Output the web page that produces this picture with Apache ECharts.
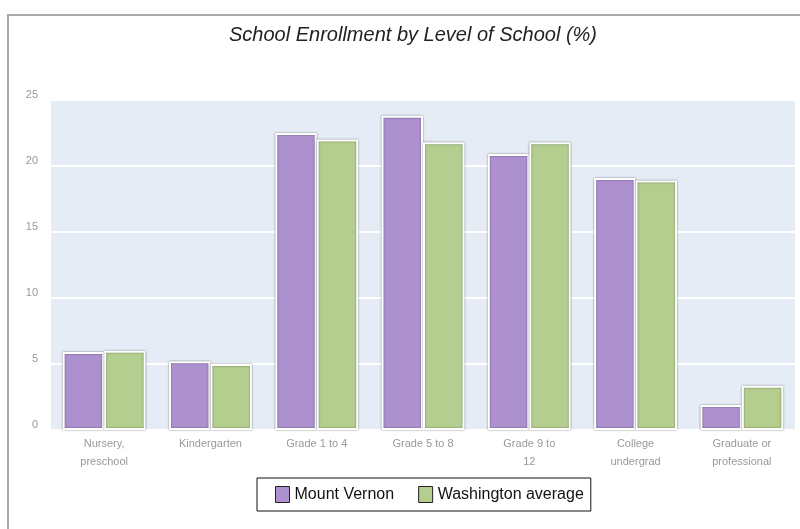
<!DOCTYPE html>
<html>
<head>
<meta charset="utf-8">
<script src="https://cdn.jsdelivr.net/npm/echarts@6/dist/echarts.min.js"></script>
<style>
  html, body { margin: 0; padding: 0; background: #fff; }
  #chart { width: 800px; height: 529px; }
</style>
</head>
<body>
<div id="chart"></div>
<script>
const levels = ['Nursery,\npreschool', 'Kindergarten', 'Grade 1 to 4', 'Grade 5 to 8', 'Grade 9 to\n12', 'College\nundergrad', 'Graduate or\nprofessional'];
const mountVernon = [5.9, 5.2, 22.5, 23.8, 20.9, 19.1, 1.9];
const washington = [6.0, 5.0, 22.0, 21.8, 21.8, 18.9, 3.35];
const yTicks = [0, 5, 10, 15, 20, 25];

const barStyle = (color) => ({
  color,
  borderColor: '#fff',
  borderWidth: 2,
  shadowColor: 'rgba(0,0,0,0.45)',
  shadowBlur: 2,
});

const chart = echarts.init(document.getElementById('chart'));
chart.setOption({
  animation: false,
  title: {
    text: 'School Enrollment by Level of School (%)',
    left: 408,
    textAlign: 'center',
    top: 20,
    textStyle: {
      fontFamily: 'Liberation Sans',
      fontStyle: 'italic',
      fontWeight: 'normal',
      fontSize: 20,
      color: '#222',
    },
  },
  graphic: [{
    type: 'rect',
    shape: { x: 8, y: 15, width: 820, height: 540 },
    style: { fill: 'none', stroke: '#aaa', lineWidth: 2 },
    z: 100,
  }],
  grid: {
    left: 51,
    right: 5,
    top: 100,
    bottom: 99,
    show: true,
    backgroundColor: '#e5ecf5',
    borderWidth: 0,
  },
  legend: {
    left: 257,
    top: 478,
    padding: [8, 7, 8, 18],
    borderColor: '#111',
    borderWidth: 1,
    borderRadius: 0,
    itemGap: 24,
    itemWidth: 14,
    itemHeight: 16,
    icon: 'rect',
    itemStyle: { borderColor: '#222', borderWidth: 1, shadowBlur: 0 },
    textStyle: { fontFamily: 'Liberation Sans', fontSize: 16, color: '#111' },
    data: ['Mount Vernon', 'Washington average'],
  },
  xAxis: {
    type: 'category',
    data: levels,
    axisLine: { show: false },
    axisTick: { show: false },
    axisLabel: {
      interval: 0,
      margin: 5,
      color: '#999',
      fontFamily: 'Liberation Sans',
      fontSize: 11,
      lineHeight: 18,
    },
  },
  yAxis: {
    type: 'value',
    min: yTicks[0],
    max: yTicks[yTicks.length - 1],
    interval: 5,
    axisLine: { show: false },
    axisTick: { show: false },
    axisLabel: {
      margin: 13,
      color: '#999',
      fontFamily: 'Liberation Sans',
      fontSize: 11,
      verticalAlign: 'bottom',
    },
    splitLine: { lineStyle: { color: '#fff', width: 2 } },
  },
  series: [
    {
      name: 'Mount Vernon',
      type: 'bar',
      data: mountVernon,
      itemStyle: barStyle('#ad91cf'),
      barGap: '0%',
      barCategoryGap: '22%',
    },
    {
      name: 'Washington average',
      type: 'bar',
      data: washington,
      itemStyle: barStyle('#b4ce8f'),
    },
  ],
});
</script>
</body>
</html>
